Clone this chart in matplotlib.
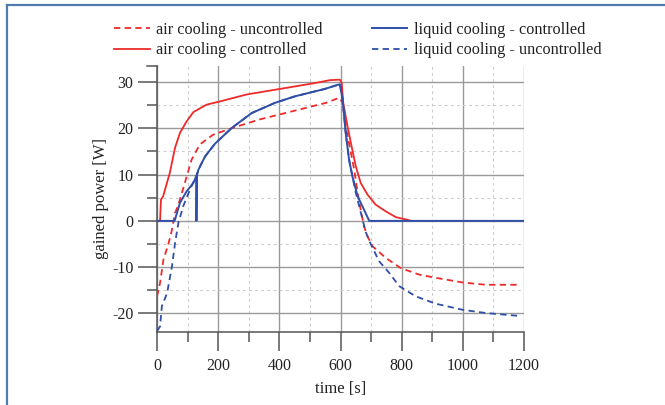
import matplotlib
matplotlib.use("Agg")
import matplotlib.pyplot as plt
from matplotlib.lines import Line2D
from matplotlib.ticker import MultipleLocator

plt.rcParams['font.family'] = ['Liberation Serif', 'DejaVu Serif']
plt.rcParams['axes.unicode_minus'] = False

# air cooling - uncontrolled (red dashed)
air_unc_t = [0, 10, 21, 38, 48, 59, 70, 91, 113, 140, 183, 248, 335, 444, 553, 596,
             607, 617, 634, 645, 656, 666, 677, 688, 705, 748, 797, 857, 912, 999, 1075, 1180]
air_unc_p = [-16.3, -13.4, -8.4, -4.8, -2.2, 1.7, 3.5, 8.2, 13.2, 16.5, 18.6, 20.1, 21.9, 23.7, 25.5, 26.6,
             25.5, 20.4, 14.7, 11.0, 6.0, 2.4, -1.2, -3.3, -5.5, -8.0, -10.2, -11.6, -12.3, -13.3, -13.8, -13.8]

# air cooling - controlled (red solid)
air_ctl_t = [0, 10, 13, 20, 42, 59, 75, 97, 119, 162, 206, 293, 402, 511, 566, 598,
             604, 609, 623, 634, 650, 666, 688, 715, 747, 781, 815, 832]
air_ctl_p = [0, 0, 4.6, 5.3, 10.4, 15.8, 19.0, 21.5, 23.5, 25.1, 25.8, 27.3, 28.5, 29.7, 30.4, 30.5,
             29.8, 25.5, 20.4, 16.8, 11.8, 8.2, 5.7, 3.5, 2.1, 0.8, 0.3, 0]

# liquid cooling - controlled (blue solid)
liq_ctl_t = [0, 57, 59, 75, 97, 119, 128, 129, 131, 133, 135, 157, 190, 245, 310, 386, 451, 506, 549, 592, 598,
             607, 617, 628, 639, 656, 672, 694, 1200]
liq_ctl_p = [0, 0, 0.3, 3.9, 6.4, 8.2, 9.6, 0, 10.0, 10.4, 11.0, 13.9, 16.7, 20.1, 23.3, 25.5, 26.9, 27.8, 28.5, 29.4, 29.5,
             26.2, 19.0, 13.2, 9.6, 5.3, 3.1, 0, 0]

# liquid cooling - uncontrolled (blue dashed)
liq_unc_t = [0, 10, 16, 33, 49, 59, 70, 86, 100, 115, 130, 135, 157, 190, 245, 310, 386, 451, 506, 549, 592, 598,
             607, 617, 628, 650, 666, 683, 699, 726, 759, 792, 846, 912, 999, 1075, 1180]
liq_unc_p = [-23.8, -22.8, -18.4, -15.6, -9.8, -4.8, -0.4, 3.2, 5.5, 7.8, 10.0, 11.0, 13.9, 16.7, 20.1, 23.3, 25.5, 26.9, 27.8, 28.5, 29.4, 29.5,
             26.2, 19.0, 13.2, 6.1, 1.9, -2.5, -5.0, -8.7, -11.2, -14.1, -16.3, -17.9, -19.2, -19.9, -20.5]

red = '#ee2a2a'
blue = '#2f4fa8'
ink = '#222222'
spine_c = '#555555'

y_lo, y_hi = -24, 33.5
px_per_unit = 4.63

fig = plt.figure(figsize=(6.65, 4.05), dpi=100)
ax_h = px_per_unit * (y_hi - y_lo) / 405
ax = fig.add_axes([157 / 665, 73 / 405, 367 / 665, ax_h])

dash = (3.5, 2.4)
ax.plot(air_unc_t, air_unc_p, color=red, lw=1.3, dashes=dash, label='air cooling - uncontrolled', zorder=3)
ax.plot(air_ctl_t, air_ctl_p, color=red, lw=1.3, label='air cooling - controlled', zorder=3)
ax.plot(liq_ctl_t, liq_ctl_p, color=blue, lw=1.4, label='liquid cooling - controlled', zorder=4)
ax.plot(liq_unc_t, liq_unc_p, color=blue, lw=1.3, dashes=dash, label='liquid cooling - uncontrolled', zorder=4)

ax.set_xlim(0, 1200)
ax.set_ylim(y_lo, y_hi)
ax.xaxis.set_major_locator(MultipleLocator(200))
ax.xaxis.set_minor_locator(MultipleLocator(100))
ax.yaxis.set_major_locator(MultipleLocator(10))
ax.yaxis.set_minor_locator(MultipleLocator(5))

ax.grid(which='major', color='#9a9a9a', lw=1.0, ls='-')
ax.grid(which='minor', color='#cccccc', lw=0.8, ls=(0, (2.5, 3)))
ax.set_axisbelow(True)
ax.get_xgridlines()[-1].set_visible(False)

for s in ['top', 'right']:
    ax.spines[s].set_visible(False)
for s in ['left', 'bottom']:
    ax.spines[s].set_color(spine_c)
    ax.spines[s].set_linewidth(1.1)

ax.tick_params(which='major', direction='out', length=13.5, width=1.1, color=spine_c,
               labelsize=11.5, labelcolor=ink, pad=3.5)
ax.tick_params(axis='x', which='major', pad=5)
ax.tick_params(which='minor', direction='out', length=7, width=1.1, color=spine_c)

# end cap at the top of the left spine
ax.add_line(Line2D([-0.026, 0], [1, 1], transform=ax.transAxes, color=spine_c, lw=1.1, clip_on=False))

ax.set_xlabel('time [s]', fontsize=12, color=ink, labelpad=5.5)
ax.set_ylabel('gained power [W]', fontsize=12, color=ink, labelpad=2)

fig.legend(loc='upper left', bbox_to_anchor=(106 / 665, 1 - 14 / 405), ncol=2, frameon=False,
           fontsize=11.7, handlelength=2.2, handletextpad=0.4, columnspacing=3.0,
           labelspacing=0.25, borderpad=0, labelcolor=ink)

# blue frame lines of the page
border = '#4f7db0'
fig.add_artist(Line2D([6.5 / 665, 1], [1 - 5 / 405, 1 - 5 / 405], transform=fig.transFigure, color=border, lw=1.6))
fig.add_artist(Line2D([6.5 / 665, 6.5 / 665], [0, 1 - 5 / 405], transform=fig.transFigure, color=border, lw=1.6))

fig.savefig('out.png', dpi=100)
